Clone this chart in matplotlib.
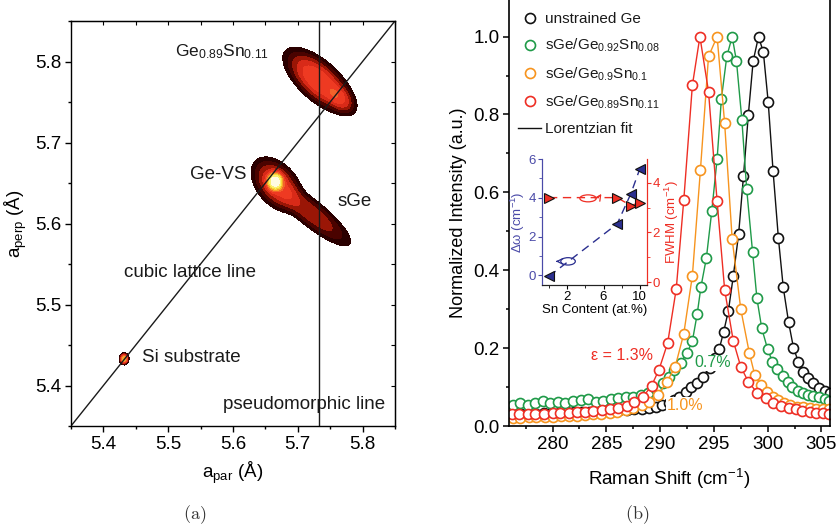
import numpy as np
import matplotlib
matplotlib.use('Agg')
import matplotlib.pyplot as plt
from matplotlib.lines import Line2D
from matplotlib.patches import Ellipse

plt.rcParams['font.family'] = ['Liberation Sans', 'DejaVu Sans']
plt.rcParams['mathtext.fontset'] = 'custom'
plt.rcParams['mathtext.rm'] = 'Liberation Sans'
plt.rcParams['mathtext.it'] = 'Liberation Sans:italic'
plt.rcParams['mathtext.bf'] = 'Liberation Sans:bold'
plt.rcParams['mathtext.default'] = 'regular'
plt.rcParams['text.color'] = '#1a1a1a'

# --- (a) reciprocal space map, peaks ---
# centre (a_par, a_perp), long / short spread, tilt (deg), relative intensity
peak_x = [5.733, 5.766, 5.665, 5.668, 5.722, 5.432]
peak_y = [5.776, 5.754, 5.652, 5.648, 5.612, 5.433]
peak_long = [0.036, 0.015, 0.009, 0.026, 0.044, 0.004]
peak_short = [0.015, 0.009, 0.008, 0.016, 0.011, 0.004]
peak_tilt = [-33, -33, 0, -35, -32, 0]
peak_amp = [0.52, 0.22, 0.95, 0.40, 0.24, 0.85]

# band colours of the map (dark rim -> red -> yellow -> white)
map_levels = [0.04, 0.1, 0.18, 0.28, 0.4, 0.55, 0.7, 0.85, 1.0, 1.2, 1.6]
map_colors = ['#2a0000', '#4a0300', '#9a1606', '#d82a18', '#ee3a22', '#f2622a',
              '#f6a228', '#f8d838', '#fbf070', '#fffbe0']

cubic_line = [5.35, 5.85]
pseudo_a = 5.733

# --- (b) Raman spectra ---
ge_x = [276.4, 277.1, 277.8, 278.5, 279.2, 279.9, 280.6, 281.3, 282.0, 282.7,
        283.4, 284.1, 284.8, 285.5, 286.2, 286.9, 287.6, 288.3, 289.0, 289.6,
        290.2, 290.8, 291.3, 291.8, 292.4, 292.9, 293.4, 294.0, 294.6, 295.1,
        295.5, 295.9, 296.35, 296.8, 297.3, 297.75, 298.2, 298.65, 299.15, 299.6,
        300.05, 300.5, 301.0, 301.45, 301.95, 302.4, 302.85, 303.3, 303.75, 304.25,
        304.75, 305.3, 305.75]
ge_y = [0.030, 0.031, 0.031, 0.032, 0.033, 0.033, 0.034, 0.035, 0.035, 0.036,
        0.037, 0.038, 0.039, 0.040, 0.041, 0.042, 0.044, 0.045, 0.047, 0.050,
        0.054, 0.060, 0.067, 0.075, 0.088, 0.099, 0.110, 0.125, 0.148, 0.175,
        0.198, 0.241, 0.296, 0.384, 0.493, 0.641, 0.798, 0.937, 1.000, 0.960,
        0.832, 0.656, 0.482, 0.356, 0.266, 0.201, 0.165, 0.140, 0.123, 0.110,
        0.098, 0.091, 0.085]

sn08_x = [276.3, 277.0, 277.7, 278.4, 279.1, 279.8, 280.5, 281.2, 281.9, 282.6,
          283.3, 284.0, 284.7, 285.4, 286.1, 286.8, 287.5, 288.2, 288.9, 289.6,
          290.3, 290.8, 291.3, 291.9, 292.5, 293.0, 293.45, 293.8, 294.3, 294.8,
          295.3, 295.7, 296.2, 296.7, 297.1, 297.6, 298.05, 298.6, 299.0, 299.45,
          300.0, 300.45, 300.9, 301.4, 301.85, 302.3, 302.8, 303.3, 303.75, 304.2,
          304.8, 305.3, 305.7]
sn08_y = [0.055, 0.058, 0.055, 0.060, 0.064, 0.060, 0.062, 0.058, 0.063, 0.066,
          0.070, 0.062, 0.064, 0.070, 0.073, 0.075, 0.074, 0.080, 0.085, 0.095,
          0.110, 0.125, 0.144, 0.163, 0.187, 0.218, 0.288, 0.358, 0.431, 0.551,
          0.686, 0.841, 0.949, 1.000, 0.937, 0.787, 0.608, 0.446, 0.328, 0.251,
          0.197, 0.165, 0.146, 0.129, 0.114, 0.101, 0.091, 0.084, 0.080, 0.077,
          0.074, 0.069, 0.065]

sn10_x = [276.3, 277.0, 277.8, 278.5, 279.3, 280.0, 280.8, 281.5, 282.3, 283.0,
          283.8, 284.5, 285.3, 286.0, 286.8, 287.5, 288.3, 289.0, 289.8, 290.6,
          291.4, 292.2, 293.0, 293.75, 294.5, 295.3, 296.0, 296.7, 297.5, 298.3,
          298.8, 299.4, 299.9, 300.5, 301.0, 301.5, 302.1, 302.7, 303.3, 303.9,
          304.5, 305.1, 305.7]
sn10_y = [0.020, 0.021, 0.022, 0.022, 0.023, 0.024, 0.025, 0.026, 0.027, 0.028,
          0.030, 0.032, 0.034, 0.037, 0.041, 0.047, 0.054, 0.062, 0.080, 0.112,
          0.152, 0.237, 0.386, 0.658, 0.949, 1.000, 0.778, 0.480, 0.300, 0.187,
          0.131, 0.105, 0.088, 0.075, 0.067, 0.060, 0.054, 0.050, 0.048, 0.046,
          0.045, 0.044, 0.043]

sn11_x = [276.2, 276.9, 277.7, 278.4, 279.2, 280.0, 280.7, 281.5, 282.3, 283.0,
          283.8, 284.6, 285.3, 286.1, 286.9, 287.6, 288.4, 289.2, 289.9, 290.7,
          291.5, 292.2, 293.0, 293.7, 294.5, 295.3, 296.0, 296.8, 297.5, 298.2,
          299.0, 299.8, 300.5, 301.2, 302.0, 302.6, 303.2, 303.9, 304.5, 305.1,
          305.7]
sn11_y = [0.032, 0.030, 0.031, 0.031, 0.032, 0.033, 0.034, 0.034, 0.036, 0.037,
          0.039, 0.041, 0.043, 0.047, 0.052, 0.062, 0.075, 0.103, 0.145, 0.213,
          0.352, 0.580, 0.875, 1.000, 0.859, 0.577, 0.350, 0.219, 0.152, 0.114,
          0.086, 0.071, 0.058, 0.051, 0.047, 0.043, 0.039, 0.036, 0.034, 0.033,
          0.032]

# inset: shift and FWHM vs Sn content
sn_content = [0, 7.5, 9, 10]
shift = [-0.05, 2.65, 4.2, 5.5]
fwhm = [3.4, 3.4, 3.08, 3.2]

RED = '#ee2e24'
ORANGE = '#f7941e'
GREEN = '#1f9a48'
NAVY = '#2b2f8f'
BLUE_AX = '#4a4aa8'

fig = plt.figure(figsize=(8.38, 5.32), dpi=100)

# ---------------- panel (a) ----------------
ax1 = fig.add_axes([0.0847, 0.1992, 0.3866, 0.7613])
gx, gy = np.meshgrid(np.linspace(5.35, 5.85, 500), np.linspace(5.35, 5.85, 500))
z = np.zeros_like(gx)
for x0, y0, sl, ss, tilt, amp in zip(peak_x, peak_y, peak_long, peak_short, peak_tilt, peak_amp):
    t = np.deg2rad(tilt)
    dx, dy = gx - x0, gy - y0
    u = dx * np.cos(t) + dy * np.sin(t)
    v = -dx * np.sin(t) + dy * np.cos(t)
    # slightly flat-topped peak shape
    z += amp * np.exp(-0.5 * ((u / sl) ** 2 + (v / ss) ** 2) ** 1.4)
ax1.contourf(gx, gy, z, levels=map_levels, colors=map_colors)

ax1.plot(cubic_line, cubic_line, color='#1a1a1a', lw=1.0)
ax1.axvline(pseudo_a, color='#1a1a1a', lw=1.0)

ax1.set_xlim(5.35, 5.85)
ax1.set_ylim(5.35, 5.85)
ax1.set_xticks([5.4, 5.5, 5.6, 5.7, 5.8])
ax1.set_yticks([5.4, 5.5, 5.6, 5.7, 5.8])
ax1.set_xticks(np.arange(5.35, 5.86, 0.05), minor=True)
ax1.set_yticks(np.arange(5.35, 5.86, 0.05), minor=True)
ax1.tick_params(which='major', direction='out', length=4, width=1, labelsize=13.5, pad=3)
ax1.tick_params(which='minor', direction='out', length=2.5, width=1)
for sp in ax1.spines.values():
    sp.set_linewidth(1.0)
sec = ax1.secondary_xaxis('top')
sec.set_xticks(np.arange(5.35, 5.86, 0.05))
sec.tick_params(direction='in', length=3, labeltop=False)
sec2 = ax1.secondary_yaxis('right')
sec2.set_yticks(np.arange(5.35, 5.86, 0.05))
sec2.tick_params(direction='in', length=3, labelright=False)

ax1.set_xlabel('a$_{par}$ (Å)', fontsize=13.5, labelpad=5)
ax1.set_ylabel('a$_{perp}$ (Å)', fontsize=13.5, labelpad=4)

ax1.text(5.51, 5.812, 'Ge$_{0.89}$Sn$_{0.11}$', fontsize=12.5, ha='left', va='center')
ax1.text(5.533, 5.661, 'Ge-VS', fontsize=13.5, ha='left', va='center')
ax1.text(5.762, 5.627, 'sGe', fontsize=13.5, ha='left', va='center')
ax1.text(5.432, 5.539, 'cubic lattice line', fontsize=13.5, ha='left', va='center')
ax1.text(5.459, 5.435, 'Si substrate', fontsize=13.5, ha='left', va='center')
ax1.text(5.585, 5.376, 'pseudomorphic line', fontsize=13.5, ha='left', va='center')

# ---------------- panel (b) ----------------
ax2 = fig.add_axes([0.6074, 0.1992, 0.3831, 0.8008])
series = [
    (ge_x, ge_y, '#111111', 'unstrained Ge'),
    (sn08_x, sn08_y, GREEN, 'sGe/Ge$_{0.92}$Sn$_{0.08}$'),
    (sn10_x, sn10_y, ORANGE, 'sGe/Ge$_{0.9}$Sn$_{0.1}$'),
    (sn11_x, sn11_y, RED, 'sGe/Ge$_{0.89}$Sn$_{0.11}$'),
]
handles = []
for xs, ys, c, lab in series:
    ax2.plot(xs, ys, '-o', color=c, mfc='white', mec=c, ms=7.2, mew=1.2, lw=1.0)
    handles.append(Line2D([], [], ls='none', marker='o', mfc='white', mec=c, ms=7.2, mew=1.2, label=lab))
handles.append(Line2D([], [], color='#111111', lw=1.0, label='Lorentzian fit'))

ax2.set_xlim(275.95, 305.8)
ax2.set_ylim(0, 1.094)
ax2.set_xticks([280, 285, 290, 295, 300, 305])
ax2.set_xticks(np.arange(277.5, 305, 5), minor=True)
ax2.set_yticks([0.0, 0.2, 0.4, 0.6, 0.8, 1.0])
ax2.set_yticklabels(['0.0', '0.2', '0.4', '0.6', '0.8', '1.0'])
ax2.set_yticks([0.1, 0.3, 0.5, 0.7, 0.9], minor=True)
ax2.tick_params(which='major', direction='out', length=4, width=1.1, labelsize=13.5, pad=3)
ax2.tick_params(which='minor', direction='out', length=2.5, width=1.1)
ax2.spines['top'].set_visible(False)
for sp in ax2.spines.values():
    sp.set_linewidth(1.2)
ax2.set_xlabel('Raman Shift (cm$^{-1}$)', fontsize=13.5, labelpad=10)
ax2.set_ylabel('Normalized Intensity (a.u.)', fontsize=13, labelpad=4)

ax2.legend(handles=handles, loc='upper left', bbox_to_anchor=(0.005, 0.99), frameon=False,
           fontsize=11, handlelength=1.5, handletextpad=0.25, labelspacing=0.72, borderpad=0)

box = dict(facecolor='white', edgecolor='none', pad=0.6)
ax2.text(283.6, 0.18, 'ε = 1.3%', color=RED, fontsize=11.5, ha='left', va='center',
         zorder=10, bbox=box)
ax2.text(293.2, 0.162, '0.7%', color=GREEN, fontsize=11.5, ha='left', va='center',
         zorder=10, bbox=box)
ax2.text(290.6, 0.053, '1.0%', color=ORANGE, fontsize=11.5, ha='left', va='center',
         zorder=10, bbox=box)

# ---------------- inset ----------------
ax3 = fig.add_axes([0.6464, 0.4643, 0.1253, 0.2368])
ax3.patch.set_alpha(0)
ax4 = ax3.twinx()
ax3.plot(sn_content, shift, ls=(0, (6, 4)), color=NAVY, lw=1.0)
ax3.plot(sn_content, shift, ls='none', marker='<', ms=7.5, mfc=NAVY, mec='#111111', mew=0.8)
ax4.plot(sn_content, fwhm, ls=(0, (6, 4)), color=RED, lw=1.0)
ax4.plot(sn_content, fwhm, ls='none', marker='>', ms=7.5, mfc=RED, mec='#111111', mew=0.8)

ax3.add_patch(Ellipse((2.1, 0.72), 1.6, 0.38, fill=False, ec=NAVY, lw=0.9))
ax3.annotate('', xy=(0.45, 0.72), xytext=(1.3, 0.72),
             arrowprops=dict(arrowstyle='->', color=NAVY, lw=0.9))
ax4.add_patch(Ellipse((4.3, 3.37), 1.8, 0.28, fill=False, ec=RED, lw=0.9))
ax4.annotate('', xy=(5.9, 3.65), xytext=(5.1, 3.4),
             arrowprops=dict(arrowstyle='->', color=RED, lw=0.9,
                             connectionstyle='arc3,rad=0.3'))

ax3.set_xlim(-0.8, 10.75)
ax3.set_ylim(-0.5, 6.0)
ax4.set_ylim(-0.11, 4.95)
ax3.set_xticks([2, 6, 10])
ax3.set_xticks([0, 4, 8], minor=True)
ax3.set_yticks([0, 2, 4, 6])
ax3.set_yticks([1, 3, 5], minor=True)
ax4.set_yticks([0, 2, 4])
ax4.set_yticks([1, 3], minor=True)
ax3.tick_params(axis='x', which='major', direction='out', length=3, labelsize=9.5, pad=1)
ax3.tick_params(axis='x', which='minor', direction='out', length=2)
ax3.tick_params(axis='y', which='major', direction='out', length=3, labelsize=9.5,
                colors=BLUE_AX, pad=1)
ax3.tick_params(axis='y', which='minor', direction='out', length=2, colors=BLUE_AX)
ax4.tick_params(axis='y', which='major', direction='out', length=3, labelsize=9.5,
                colors=RED, pad=1)
ax4.tick_params(axis='y', which='minor', direction='out', length=2, colors=RED)
for a in (ax3, ax4):
    a.spines['top'].set_visible(False)
    a.spines['left'].set_color(BLUE_AX)
    a.spines['right'].set_color(RED)
    a.spines['bottom'].set_color('#222222')
ax3.set_xlabel('Sn Content (at.%)', fontsize=9.5, labelpad=1)
ax3.set_ylabel('Δω (cm$^{-1}$)', fontsize=9.5, color=BLUE_AX, labelpad=1)
ax4.set_ylabel('FWHM (cm$^{-1}$)', fontsize=9.5, color=RED, labelpad=2)

# captions
fig.text(0.2327, 0.032, r'$\mathrm{(a)}$', math_fontfamily='cm', fontsize=13,
         ha='center', va='center', color='#333333')
fig.text(0.760, 0.032, r'$\mathrm{(b)}$', math_fontfamily='cm', fontsize=13,
         ha='center', va='center', color='#333333')

fig.savefig('out.png', dpi=100)
